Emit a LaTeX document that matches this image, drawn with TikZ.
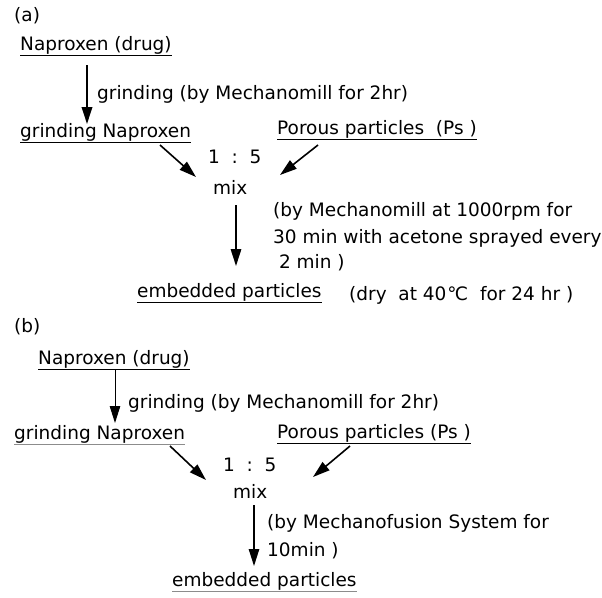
\documentclass[tikz,border=0pt]{standalone}
\usepackage{fontspec}
\setmainfont{DejaVu Sans}
\usetikzlibrary{arrows.meta}
\tikzset{
  lbl/.style={anchor=base west, inner sep=0pt, font=\fontsize{18.5}{22}\selectfont},
  flow/.style={line width=1.6pt, -{Triangle[length=17pt,width=10.5pt]}},
  thinflow/.style={line width=1pt, -{Triangle[length=17pt,width=10.5pt]}},
  ulline/.style={line width=0.8pt},
  faintul/.style={line width=0.7pt, black!45},
}
\newcommand{\underl}[2][ulline]{\draw[#1] ([yshift=-5pt]#2.base west) -- ([yshift=-5pt]#2.base east);}
\begin{document}
\begin{tikzpicture}[x=1pt,y=-1pt]
\useasboundingbox (0,0) rectangle (602,597);
% (a)
\node[lbl] (la) at (14,21) {(a)};
\node[lbl] (a1) at (20,50) {Naproxen (drug)};
\node[lbl] (ag) at (97,99) {grinding (by Mechanomill for 2hr)};
\node[lbl] (a2) at (20,137) {grinding Naproxen};
\node[lbl] (a3) at (277,134) {Porous particles\ \ (Ps )};
\node[lbl] (ar) at (208,163) {1\ \ :\ \ 5};
\node[lbl] (am) at (213,194) {mix};
\node[lbl] (ab1) at (273,216) {(by Mechanomill at 1000rpm for};
\node[lbl] (ab2) at (273,243) {30 min with acetone sprayed every};
\node[lbl] (ab3) at (273,268) {\ 2 min )};
\node[lbl] (ae) at (137,297) {embedded particles};
\node[lbl] (ad) at (349,300) {(dry\ \ at 40\hspace{1pt}\char"2103\hspace{6pt} for 24 hr\ )};
\underl{a1}
\underl{a2}
\underl{a3}
\underl{ae}
\coordinate (a1s) at (87,65);
\coordinate (a1e) at (87,124);
\draw[flow, line width=1.9pt] (a1s) -- (a1e);
\coordinate (a2s) at (160,145);
\coordinate (a2e) at (196,177);
\draw[flow] (a2s) -- (a2e);
\coordinate (a3s) at (318,145);
\coordinate (a3e) at (280,175);
\draw[flow] (a3s) -- (a3e);
\coordinate (a4s) at (236,205);
\coordinate (a4e) at (236,266);
\draw[flow] (a4s) -- (a4e);
% (b)
\node[lbl] (lb) at (14,332) {(b)};
\node[lbl] (b1) at (38,364) {Naproxen (drug)};
\node[lbl] (bg) at (128,408) {grinding (by Mechanomill for 2hr)};
\node[lbl] (b2) at (14,439) {grinding Naproxen};
\node[lbl] (b3) at (277,438) {Porous particles (Ps )};
\node[lbl] (br) at (223,471) {1\ \ :\ \ 5};
\node[lbl] (bm) at (233,498) {mix};
\node[lbl] (bb1) at (267,528) {(by Mechanofusion System for};
\node[lbl] (bb2) at (267,556) {10min )};
\node[lbl] (be) at (172,586) {embedded particles};
\underl{b1}
\underl[faintul]{b2}
\underl{b3}
\underl[faintul]{be}
\coordinate (b1s) at (115,370);
\coordinate (b1e) at (115,423);
\draw[thinflow] (b1s) -- (b1e);
\coordinate (b2s) at (170,446);
\coordinate (b2e) at (206,480);
\draw[flow] (b2s) -- (b2e);
\coordinate (b3s) at (350,446);
\coordinate (b3e) at (313,477);
\draw[flow] (b3s) -- (b3e);
\coordinate (b4s) at (254,505);
\coordinate (b4e) at (254,566);
\draw[thinflow, line width=1.2pt] (b4s) -- (b4e);
\end{tikzpicture}
\end{document}
